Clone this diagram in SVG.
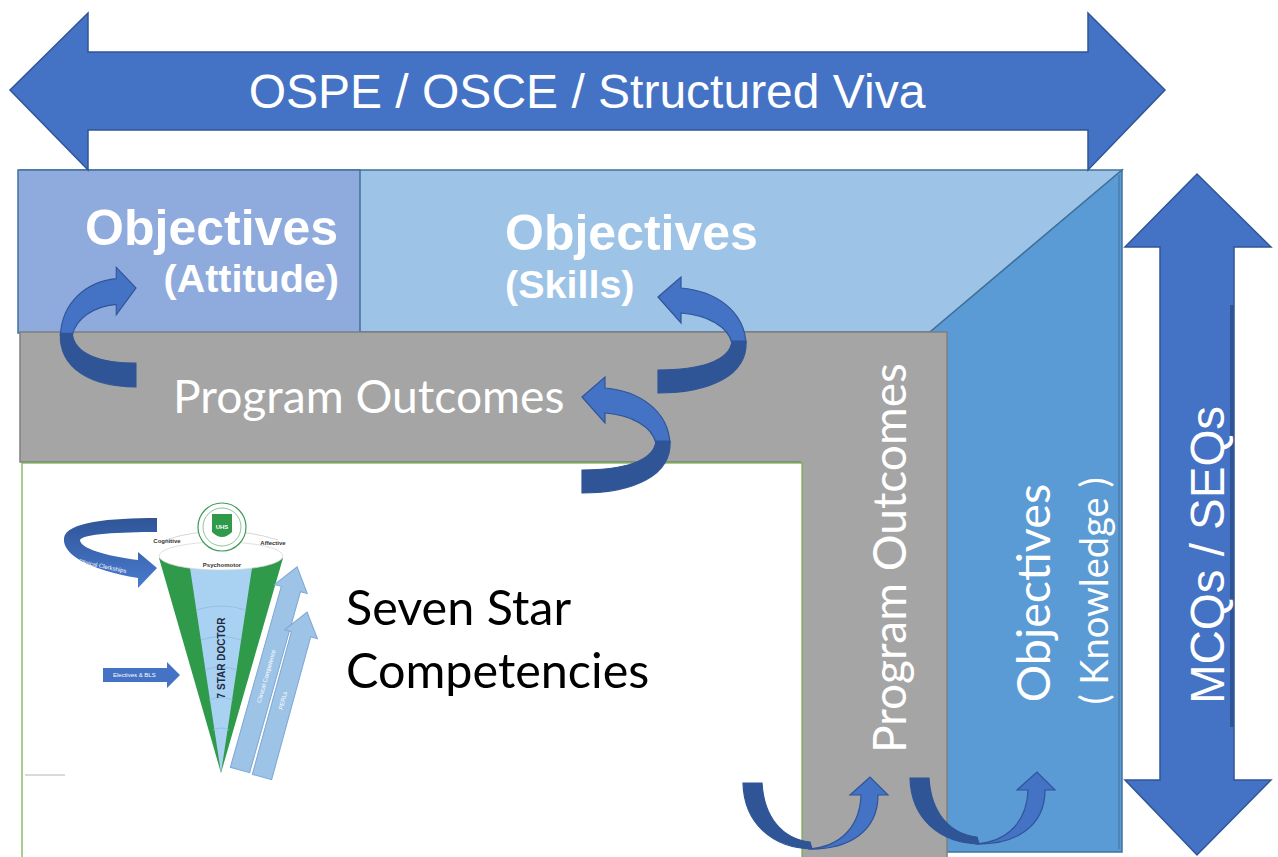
<svg xmlns="http://www.w3.org/2000/svg" xmlns:xlink="http://www.w3.org/1999/xlink" width="1278" height="857" viewBox="0 0 1278 857">
<style>
.blk{fill:#4472C4;stroke:#2F5597;stroke-width:1.5}
.dk{fill:#2F5597;stroke:#2F5597;stroke-width:1.2}
.lt{fill:#4472C4;stroke:#2F5597;stroke-width:1.2}
.wt{fill:#ffffff}
.ar{font-family:"Liberation Sans",Arial,sans-serif}
.cal{font-family:Lato,"Open Sans",sans-serif}
.bold{font-weight:bold}
.tiny{font-family:"Liberation Sans",Arial,sans-serif;font-size:6px}
.lb{fill:#9DC3E6;stroke:#7FA7D4;stroke-width:1}
</style>
<defs>
<g id="curlL">
<path class="lt" d="M0,0 L23,-20 L23,-9 C58,-6 86,14 88,46 L74,46 C70,30 50,18 23,16 L23,26 Z"/>
<path class="dk" d="M88,44 C90,78 52,96 0,96 L0,73 C42,73 72,64 74,44 Z"/>
</g>
<g id="curlU">
<path class="dk" d="M-127,6 L-108,6 C-106,40 -88,62 -60,65 L-58,72 C-98,71 -126,46 -127,6 Z"/>
<path class="lt" d="M-62,72 C-28,70 -10,48 -9,18 L-20,18 L0,0 L18,18 L8,18 C8,55 -22,73 -62,72 Z"/>
</g>
<linearGradient id="cc" x1="0" y1="0" x2="0" y2="1">
<stop offset="0" stop-color="#2F5597"/>
<stop offset="1" stop-color="#4A7BD0"/>
</linearGradient>
</defs>

<g id="skills">
<polygon points="20,170 1122,170 930,332 20,332" fill="#9DC3E6" stroke="#41719C" stroke-width="1.5"/>
</g>
<g id="knowledge">
<polygon points="930,332 1122,170 1122,852 930,852" fill="#5B9BD5" stroke="#41719C" stroke-width="1.5"/>
<line x1="1119" y1="175" x2="1119" y2="849" stroke="#41719C" stroke-width="1"/>
</g>
<g id="attitude">
<rect x="18" y="170" width="342" height="163" fill="#8FAADC" stroke="#41719C" stroke-width="1.5"/>
</g>
<g id="program-outcomes">
<path d="M20,332 H947 V860 H800 V462 H20 Z" fill="#A5A5A5" stroke="#7F7F7F" stroke-width="1.5"/>
</g>
<g id="seven-star">
<rect x="22" y="463" width="780" height="400" fill="#ffffff" stroke="#70AD47" stroke-width="1.2"/>
<line x1="25" y1="775" x2="65" y2="775" stroke="#cccccc" stroke-width="1.5"/>
<g id="cone">
<path d="M157,518 C110,518 66,522 64,538 C62,555 90,570 138,578 L138,588 L157,568 L138,552 L138,560 C105,556 80,548 80,540 C82,534 120,532 157,532 Z" fill="url(#cc)"/>
<text class="tiny wt" x="78" y="563" transform="rotate(12 78 563)">Clinical Clerkships</text>
<polygon points="103,668 167,668 167,662 180,675 167,688 167,682 103,682" fill="#4472C4"/>
<text class="tiny wt" x="113" y="677">Electives &amp; BLS</text>
<polygon points="159,558 283,558 221,773" fill="#2E9A4A"/>
<polygon points="190,568 252,568 221,773" fill="#A9D2F2"/>
<path d="M196,610 Q221,602 246,610 M201,640 Q221,633 241,640 M205,670 Q221,664 237,670 M209,700 Q221,695 233,700 M213,730 Q221,726 229,730" fill="none" stroke="#8DBBE0" stroke-width="0.8"/>
<ellipse cx="221" cy="556" rx="62" ry="14" fill="#ffffff" stroke="#d8d8d8" stroke-width="0.8"/>
<path d="M165,540 Q221,522 278,540" fill="none" stroke="#bbbbbb" stroke-width="0.6"/>
<circle cx="222" cy="527" r="24" fill="#ffffff" stroke="#3E9B58" stroke-width="1.2"/>
<circle cx="222" cy="527" r="19" fill="none" stroke="#3E9B58" stroke-width="0.6"/>
<path d="M212,514 H232 V532 Q222,542 212,532 Z" fill="#2E9A4A"/>
<text class="tiny bold" x="222" y="529" text-anchor="middle" fill="#ffffff" font-size="7">UHS</text>
<text class="tiny bold" x="167" y="543" text-anchor="middle" fill="#333">Cognitive</text>
<text class="tiny bold" x="273" y="545" text-anchor="middle" fill="#333">Affective</text>
<text class="tiny bold" x="222" y="567" text-anchor="middle" fill="#333">Psychomotor</text>
<text class="ar bold" x="0" y="0" font-size="10" fill="#1F2A44" text-anchor="middle" transform="translate(225,658) rotate(-90)">7 STAR DOCTOR</text>
<g transform="translate(240,770) rotate(-74.3)">
<path class="lb" d="M0,-10 H188 V-17 L211,0 L188,17 V10 H0 Z"/>
<text class="tiny wt" x="70" y="2">Clinical Competence</text>
</g>
<g transform="translate(262,777) rotate(-74.7)">
<path class="lb" d="M0,-10 H148 V-17 L171,0 L148,17 V10 H0 Z"/>
<text class="tiny wt" x="70" y="2">PERLs</text>
</g>
</g>
</g>

<g id="top-arrow">
<polygon class="blk" points="10,90 88,13 88,52 1088,52 1088,13 1165,90 1088,170 1088,130 88,130 88,170"/>
<text class="ar wt" x="587" y="108" font-size="48" text-anchor="middle">OSPE / OSCE / Structured Viva</text>
</g>
<g id="right-arrow">
<polygon class="blk" points="1197,174 1271,247 1234,247 1234,780 1271,780 1197,855 1125,780 1160,780 1160,247 1125,247"/>
<line x1="1232" y1="305" x2="1232" y2="727" stroke="#2F5597" stroke-width="4"/>
<text class="ar wt" x="0" y="0" font-size="47.5" text-anchor="middle" transform="translate(1224,555) rotate(-90)">MCQs / SEQs</text>
</g>

<g id="labels">
<text class="ar bold wt" x="338" y="245" font-size="50" text-anchor="end">Objectives</text>
<text class="ar bold wt" x="339" y="292" font-size="39.5" text-anchor="end">(Attitude)</text>
<text class="ar bold wt" x="505" y="250" font-size="50">Objectives</text>
<text class="ar bold wt" x="505" y="298" font-size="39.5">(Skills)</text>
<text class="cal wt" x="173" y="413" font-size="46.2">Program Outcomes</text>
<text class="cal wt" x="0" y="0" font-size="46" text-anchor="middle" transform="translate(906,558) rotate(-90)">Program Outcomes</text>
<text class="cal wt" x="0" y="0" font-size="46.7" text-anchor="middle" transform="translate(1050,593) rotate(-90)">Objectives</text>
<text class="cal wt" x="0" y="0" font-size="38" text-anchor="middle" transform="translate(1108,591) rotate(-90)">( Knowledge )</text>
<text class="cal" x="346" y="625" font-size="48.5" fill="#000000">Seven Star</text>
<text class="cal" x="346" y="688" font-size="48.5" fill="#000000">Competencies</text>
</g>

<g id="connectors">
<use xlink:href="#curlL" transform="translate(136,288) scale(-0.86,1.03)"/>
<use xlink:href="#curlL" transform="translate(658,297)"/>
<use xlink:href="#curlL" transform="translate(582,397)"/>
<use xlink:href="#curlU" transform="translate(870,777)"/>
<use xlink:href="#curlU" transform="translate(1037,772)"/>
</g>
</svg>
